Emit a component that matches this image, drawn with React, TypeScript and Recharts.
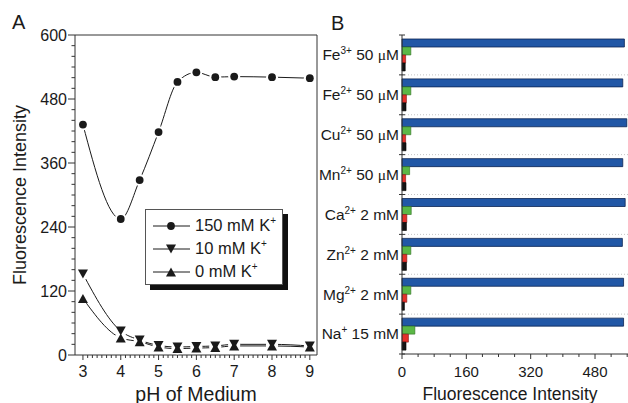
import React from 'react';
import { LineChart, Line, XAxis, YAxis, ReferenceLine, BarChart, Bar, CartesianGrid } from 'recharts';

const FONT = '"Liberation Sans", Arial, Helvetica, sans-serif';
const INK = '#1a1a1a';
const AXIS = '#333';

// ---- Panel A: fluorescence vs pH ----
const phValues = [3, 4, 4.5, 5, 5.5, 6, 6.5, 7, 8, 9];
const k150 = [432, 255, 328, 418, 512, 530, 521, 522, 521, 519];
const k10 = [152, 45, 28, 18, 15, 16, 17, 20, 20, 17];
const k0 = [106, 32, 25, 15, 12, 13, 14, 17, 17, 15];

const phTicks = [3, 4, 5, 6, 7, 8, 9];
const intensityTicksA = [0, 120, 240, 360, 480, 600];
const PH_MIN = 2.79;
const PH_MAX = 9.19;

const seriesA = [
  { key: 'k150', name: '150 mM K', shape: 'circle' },
  { key: 'k10', name: '10 mM K', shape: 'down' },
  { key: 'k0', name: '0 mM K', shape: 'up' },
];

const phData = phValues.map((ph, i) => ({ ph, k150: k150[i], k10: k10[i], k0: k0[i] }));

// minor ticks (not data, just tick marks)
const phMinor: number[] = [];
for (let v = 3; v <= 9; v += 0.125) phMinor.push(v);
const yMinorA: number[] = [];
for (let v = 0; v <= 600; v += 20) yMinorA.push(v);

// ---- Panel B: ion interference ----
const ionNames = ['Fe', 'Fe', 'Cu', 'Mn', 'Ca', 'Zn', 'Mg', 'Na'];
const ionCharges = ['3+', '2+', '2+', '2+', '2+', '2+', '2+', '+'];
const ionConc = ['50', '50', '50', '50', '2', '2', '2', '15'];
const ionUnit = ['μM', 'μM', 'μM', 'μM', 'mM', 'mM', 'mM', 'mM'];
const blueVals = [553, 549, 559, 549, 555, 548, 551, 551];
const greenVals = [22, 22, 22, 19, 23, 22, 22, 32];
const redVals = [9, 11, 9, 9, 12, 12, 12, 16];
const blackVals = [8, 10, 10, 10, 11, 11, 6, 10];

const intensityTicksB = [0, 160, 320, 480];
const B_MAX = 562;
const xMinorB: number[] = [];
for (let v = 0; v <= 560; v += 40) xMinorB.push(v);

const ionData = ionNames.map((n, i) => ({
  label: `${n}${ionCharges[i]} ${ionConc[i]} ${ionUnit[i]}`,
  blue: blueVals[i],
  green: greenVals[i],
  red: redVals[i],
  black: blackVals[i],
}));

const BAND = 319 / ionNames.length;

function Marker({ shape, cx, cy }: { shape: string; cx: number; cy: number }) {
  if (shape === 'circle') return <circle cx={cx} cy={cy} r={3.9} fill={INK} />;
  if (shape === 'down')
    return <polygon points={`${cx - 5},${cy - 4.5} ${cx + 5},${cy - 4.5} ${cx},${cy + 4.5}`} fill={INK} />;
  return <polygon points={`${cx - 5},${cy + 4.5} ${cx + 5},${cy + 4.5} ${cx},${cy - 4.5}`} fill={INK} />;
}

const halo = (props: any) => (
  <circle key={`h-${props.index}`} cx={props.cx} cy={props.cy} r={6} fill="#fff" stroke="none" />
);

const markerFor = (shape: string) => (props: any) => (
  <Marker key={`m-${props.index}`} shape={shape} cx={props.cx} cy={props.cy} />
);

function PhTick(props: any) {
  const { x, y, payload } = props;
  const major = phTicks.includes(payload.value);
  return (
    <g>
      <line x1={x} x2={x} y1={y} y2={y + (major ? 5 : 3)} stroke={AXIS} />
      {major && (
        <text x={x} y={y + 22} textAnchor="middle" fontSize={16} fill={INK} fontFamily={FONT}>
          {payload.value}
        </text>
      )}
    </g>
  );
}

function YTickA(props: any) {
  const { x, y, payload } = props;
  const major = intensityTicksA.includes(payload.value);
  return (
    <g>
      <line x1={x - (major ? 7 : 3.5)} x2={x} y1={y} y2={y} stroke={AXIS} />
      {major && (
        <text x={x - 8} y={y} dy="0.35em" textAnchor="end" fontSize={16} fill={INK} fontFamily={FONT}>
          {payload.value}
        </text>
      )}
    </g>
  );
}

function XTickB(props: any) {
  const { x, y, payload } = props;
  const major = intensityTicksB.includes(payload.value);
  return (
    <g>
      <line x1={x} x2={x} y1={y} y2={y + (major ? 5 : 3)} stroke={AXIS} />
      {major && (
        <text x={x} y={y + 23} textAnchor="middle" fontSize={15} fill={INK} fontFamily={FONT}>
          {payload.value}
        </text>
      )}
    </g>
  );
}

function IonTick(props: any) {
  const { x, y, index } = props;
  const half = BAND / 2;
  const unit = ionUnit[index];
  return (
    <g>
      <line x1={x - 3} x2={x + 3} y1={y - half} y2={y - half} stroke={AXIS} />
      {index === ionNames.length - 1 && <line x1={x - 3} x2={x + 3} y1={y + half} y2={y + half} stroke={AXIS} />}
      <text x={x - 3} y={y} dy="0.35em" textAnchor="end" fontSize={15.5} fill={INK} fontFamily={FONT}>
        {ionNames[index]}
        <tspan fontSize={10} dy={-6}>{ionCharges[index]}</tspan>
        <tspan dy={6}>{' ' + ionConc[index] + ' '}</tspan>
        {unit.startsWith('μ') ? (
          <>
            <tspan fontFamily='"Liberation Serif", serif'>μ</tspan>
            <tspan>{unit.slice(1)}</tspan>
          </>
        ) : (
          <tspan>{unit}</tspan>
        )}
      </text>
    </g>
  );
}

export default function App() {
  return (
    <div style={{ position: 'absolute', left: 0, top: 0, width: 628, height: 403, background: '#fff', fontFamily: FONT, overflow: 'hidden' }}>
      {/* Panel A */}
      <div style={{ position: 'absolute', left: 0, top: 0 }}>
        <LineChart width={330} height={403} data={phData} margin={{ top: 35, right: 13, bottom: 0, left: 0 }}>
          <XAxis
            dataKey="ph"
            type="number"
            domain={[PH_MIN, PH_MAX]}
            ticks={phMinor}
            interval={0}
            tickSize={0}
            tickMargin={0}
            height={48}
            tick={PhTick}
            tickLine={false}
            axisLine={{ stroke: AXIS }}
            label={{
              content: (p: any) => (
                <text x={p.viewBox.x + p.viewBox.width / 2} y={401} textAnchor="middle" fontSize={19.5} fill={INK} fontFamily={FONT}>
                  pH of Medium
                </text>
              ),
            }}
          />
          <YAxis
            type="number"
            domain={[0, 600]}
            ticks={yMinorA}
            interval={0}
            tickSize={0}
            tickMargin={0}
            width={75}
            tick={YTickA}
            tickLine={false}
            axisLine={{ stroke: AXIS }}
            label={{
              content: (p: any) => {
                const cy = p.viewBox.y + p.viewBox.height / 2;
                return (
                  <text x={26} y={cy} transform={`rotate(-90, 26, ${cy})`} textAnchor="middle" fontSize={18} fill={INK} fontFamily={FONT}>
                    Fluorescence Intensity
                  </text>
                );
              },
            }}
          />
          <ReferenceLine y={600} stroke={AXIS} />
          <ReferenceLine x={PH_MAX} stroke={AXIS} />
          {seriesA.map((s) => (
            <Line
              key={`line-${s.key}`}
              dataKey={s.key}
              type="monotone"
              stroke={INK}
              strokeWidth={1}
              dot={halo}
              activeDot={false}
              isAnimationActive={false}
            />
          ))}
          {seriesA.map((s) => (
            <Line
              key={`mark-${s.key}`}
              dataKey={s.key}
              type="monotone"
              stroke="none"
              dot={markerFor(s.shape)}
              activeDot={false}
              isAnimationActive={false}
            />
          ))}
        </LineChart>
      </div>

      {/* Panel A legend */}
      <div
        style={{
          position: 'absolute',
          left: 145,
          top: 209,
          width: 136,
          height: 74,
          border: '1px solid #555',
          background: '#fff',
          boxShadow: '5px 5px 0 #111',
        }}
      >
        {seriesA.map((s, i) => (
          <div key={s.key} style={{ position: 'absolute', left: 0, top: 7 + i * 23, height: 18, display: 'flex', alignItems: 'center' }}>
            <svg width={47} height={18}>
              <line x1={7} x2={44} y1={9} y2={9} stroke={INK} />
              <Marker shape={s.shape} cx={25} cy={9} />
            </svg>
            <span style={{ fontSize: 16.5, color: INK, marginLeft: 2, lineHeight: '18px' }}>
              {s.name}
              <span style={{ fontSize: 10, position: 'relative', top: -7 }}>+</span>
            </span>
          </div>
        ))}
      </div>

      {/* Panel B */}
      <div style={{ position: 'absolute', left: 300, top: 0 }}>
        <BarChart
          width={328}
          height={403}
          data={ionData}
          layout="vertical"
          margin={{ top: 35, right: 0, bottom: 0, left: 0 }}
          barGap={0}
          barSize={8}
        >
          <CartesianGrid
            vertical={false}
            stroke="#c4c4c4"
            strokeDasharray="1 2"
            horizontalCoordinatesGenerator={({ offset }: any) =>
              ionNames.slice(1).map((_, i) => offset.top + ((i + 1) * offset.height) / ionNames.length)
            }
          />
          <XAxis
            type="number"
            domain={[0, B_MAX]}
            ticks={xMinorB}
            interval={0}
            tickSize={0}
            tickMargin={0}
            height={49}
            tick={XTickB}
            tickLine={false}
            axisLine={{ stroke: AXIS }}
            label={{
              content: (p: any) => (
                <text x={p.viewBox.x + p.viewBox.width / 2 - 5} y={400} textAnchor="middle" fontSize={17.5} fill={INK} fontFamily={FONT}>
                  Fluorescence Intensity
                </text>
              ),
            }}
          />
          <YAxis
            type="category"
            dataKey="label"
            width={102}
            interval={0}
            tickSize={0}
            tickMargin={0}
            tick={IonTick}
            tickLine={false}
            axisLine={{ stroke: AXIS }}
          />
          <Bar dataKey="blue" fill="#2157a6" stroke="#0d2553" strokeWidth={0.8} isAnimationActive={false} />
          <Bar dataKey="green" fill="#5bb846" stroke="#2f6e22" strokeWidth={0.6} isAnimationActive={false} />
          <Bar dataKey="red" fill="#e5312b" stroke="#7a1512" strokeWidth={0.6} isAnimationActive={false} />
          <Bar dataKey="black" fill="#141414" stroke="#000" strokeWidth={0.6} isAnimationActive={false} />
        </BarChart>
      </div>

      {/* panel letters */}
      <svg width={628} height={403} style={{ position: 'absolute', left: 0, top: 0, pointerEvents: 'none' }}>
        <text x={12} y={29} fontSize={20} fill={INK} fontFamily={FONT}>A</text>
        <text x={331} y={30} fontSize={20} fill={INK} fontFamily={FONT}>B</text>
      </svg>
    </div>
  );
}
